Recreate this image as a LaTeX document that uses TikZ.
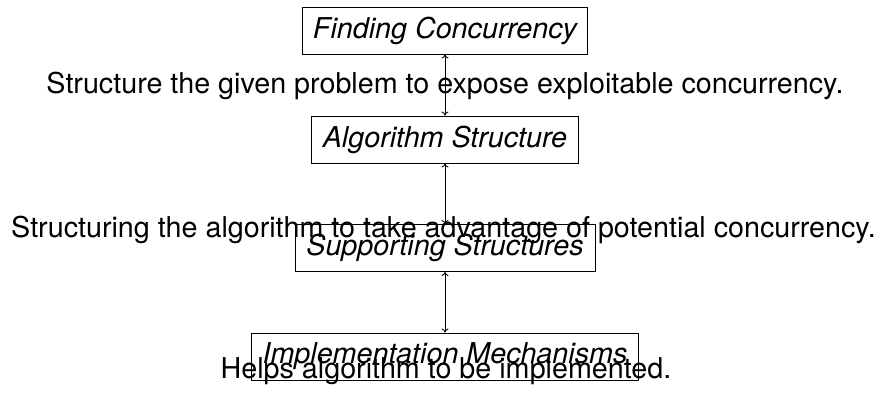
\documentclass[tikz,border=0pt]{standalone}
\usepackage{fontspec}
\setmainfont{TeX Gyre Heros}
\usetikzlibrary{arrows.meta}
\begin{document}
\begin{tikzpicture}[x=1pt,y=-1pt,
  font=\fontsize{28.7}{34}\selectfont,
  layer/.style={draw,line width=0.9pt,minimum height=47pt,inner sep=0pt,font=\fontsize{28.7}{34}\selectfont\itshape},
  note/.style={anchor=base,inner sep=0pt},
  link/.style={line width=0.9pt,{To[length=4pt,width=7pt]}-{To[length=4pt,width=7pt]}}]
  \useasboundingbox (0,0) rectangle (881,392);

  % the four design spaces
  \node[layer,minimum width=285pt] (fc) at (445,30.5)  {Finding Concurrency};
  \node[layer,minimum width=267pt] (as) at (445,139.5) {Algorithm Structure};
  \node[layer,minimum width=300pt] (ss) at (445,248)   {Supporting Structures};
  \node[layer,minimum width=387pt] (im) at (445,356.5) {Implementation Mechanisms};

  % links between neighbouring spaces
  \draw[link] (fc) -- (as);
  \draw[link] (as) -- (ss);
  \draw[link] (ss) -- (im);

  % descriptions
  \node[note] (d1) at (445,93)    {Structure the given problem to expose exploitable concurrency.};
  \node[note] (d2) at (443.5,237) {Structuring the algorithm to take advantage of potential concurrency.};
  \node[note] (d3) at (446,378)   {Helps algorithm to be implemented.};
\end{tikzpicture}
\end{document}
